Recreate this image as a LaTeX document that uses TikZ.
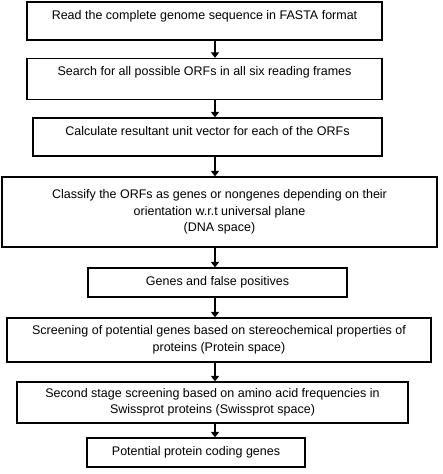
\documentclass[tikz,border=0pt]{standalone}
\usepackage{fontspec}
\newfontfamily\flowfont{Liberation Sans}
\usetikzlibrary{arrows.meta}

\begin{document}
\begin{tikzpicture}[x=1pt,y=1pt,
  flowbox/.style={draw, line width=1.2pt, inner sep=0pt, align=center,
    font=\flowfont\fontsize{12.5}{16.5}\selectfont},
  topline/.style={text height=17pt, text depth=#1},
  flowarrow/.style={line width=2.8pt, -{Triangle[width=8pt,length=5.5pt]}}]
\useasboundingbox (0,0) rectangle (442,-474);
\coordinate (spine) at (215,0);
%---steps-------------------------------------------
\node[flowbox, topline=21pt, minimum width=355pt] (read) at (204.5,-21)
  {Read the complete genome sequence in FASTA format};
\node[flowbox, topline=24pt, minimum width=355pt] (search) at (204.5,-79)
  {Search for all possible ORFs in all six reading frames};
\node[flowbox, topline=21pt, minimum width=349pt] (calc) at (207.5,-137)
  {Calculate resultant unit vector for each of the ORFs};
\node[flowbox, minimum width=435pt, minimum height=70pt] (classify) at (219.5,-212)
  {Classify the ORFs as genes or nongenes depending on their\\
   orientation w.r.t universal plane\\ (DNA space)};
\node[flowbox, minimum width=259pt, minimum height=29pt] (genes) at (217.5,-282.5)
  {Genes and false positives};
\node[flowbox, minimum width=424pt, minimum height=44pt] (protein) at (219,-340)
  {Screening of potential genes based on stereochemical properties of\\
   proteins (Protein space)};
\node[flowbox, minimum width=391pt, minimum height=41pt] (swiss) at (212.5,-402.5)
  {Second stage screening based on amino acid frequencies in\\
   Swissprot proteins (Swissprot space)};
\node[flowbox, minimum width=218pt, minimum height=29pt] (coding) at (196,-452.5)
  {Potential protein coding genes};
%---arrows------------------------------------------
\foreach \a/\b in {read/search, search/calc, calc/classify, classify/genes,
                   genes/protein, protein/swiss, swiss/coding}
  \draw[flowarrow] (\a.south -| spine) -- (\b.north -| spine);
\end{tikzpicture}
\end{document}
